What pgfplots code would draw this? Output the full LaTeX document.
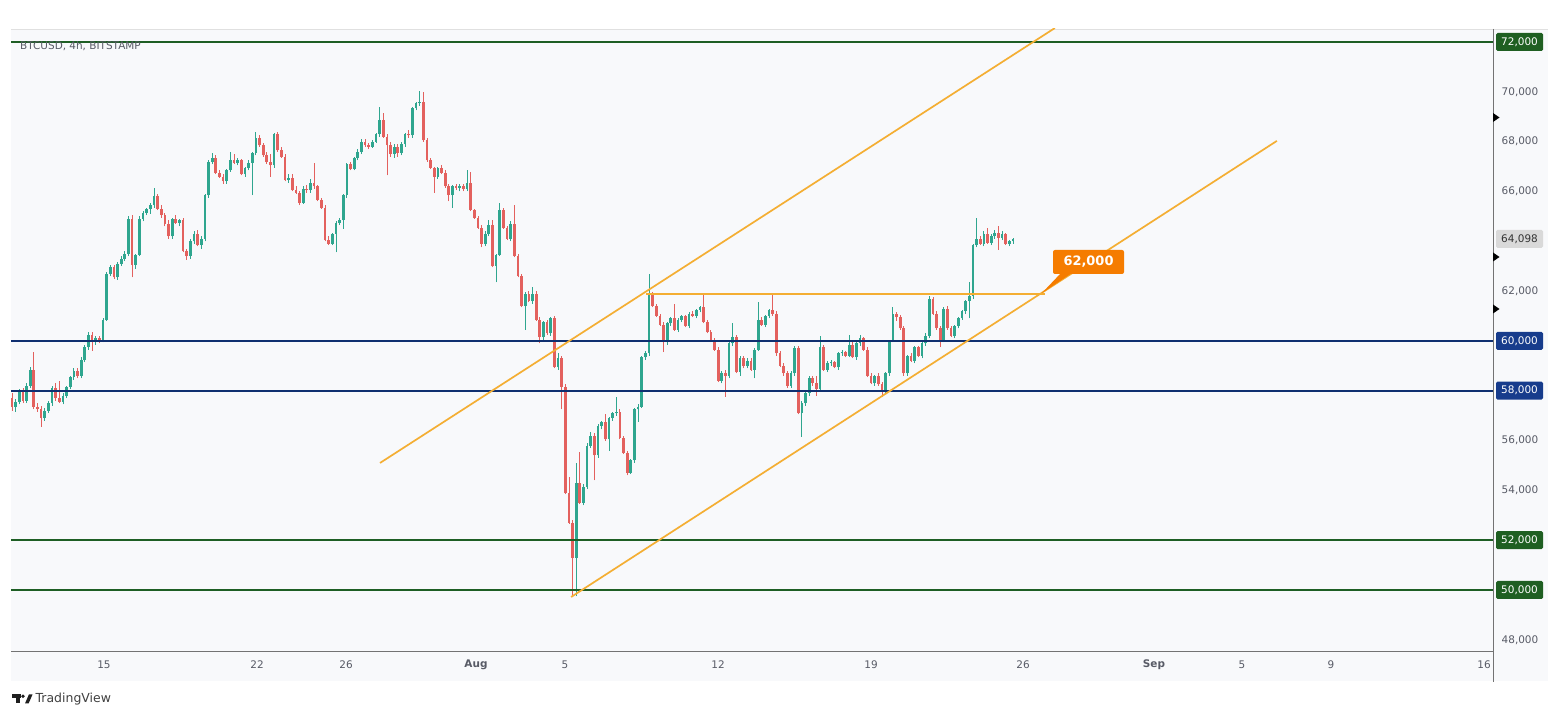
\documentclass[border=0pt]{standalone}
\usepackage{pgfplots}
\pgfplotsset{compat=1.18}
\usepackage{pgfplotstable}
\usepackage{fontspec}
\setmainfont{DejaVu Sans}
\definecolor{cgreen}{HTML}{2FA68F}
\definecolor{cred}{HTML}{E3615E}
\definecolor{lvlgreen}{HTML}{1E5E24}
\definecolor{lvlnavy}{HTML}{0F2F70}
\definecolor{boxgreen}{HTML}{1F5F22}
\definecolor{boxnavy}{HTML}{173C8C}
\definecolor{chan}{HTML}{F4AE33}
\definecolor{callout}{HTML}{F57C00}
\definecolor{panel}{HTML}{F8F9FB}
\definecolor{axtext}{HTML}{585B66}

\pgfplotstableread{
i o h l c
0 57.70 57.90 57.20 57.35
1 57.35 57.65 57.15 57.55
2 57.55 58.05 57.45 57.95
3 57.95 58.10 57.50 57.60
4 57.60 58.30 57.50 58.20
5 58.20 58.95 58.10 58.85
6 58.85 59.55 57.25 57.35
7 57.35 57.50 57.15 57.25
8 57.25 57.40 56.55 56.90
9 56.90 57.30 56.80 57.20
10 57.20 57.60 57.10 57.50
11 57.50 58.20 57.40 58.10
12 58.10 58.30 57.60 57.70
13 57.70 58.40 57.50 57.55
14 57.55 57.90 57.45 57.80
15 57.80 58.20 57.70 58.15
16 58.15 58.60 58.05 58.55
17 58.55 58.90 58.45 58.80
18 58.80 58.90 58.50 58.60
19 58.60 59.35 58.50 59.25
20 59.25 59.85 59.15 59.75
21 59.75 60.35 59.65 60.25
22 60.25 60.35 59.60 60.00
23 60.00 60.20 59.85 60.10
24 60.10 60.20 59.90 60.00
25 60.00 60.90 59.95 60.85
26 60.85 62.75 60.80 62.70
27 62.70 63.05 62.60 62.95
28 62.95 63.05 62.50 62.55
29 62.55 63.15 62.45 63.10
30 63.10 63.40 63.00 63.30
31 63.30 63.60 63.20 63.50
32 63.50 65.00 63.40 64.90
33 64.90 65.05 62.55 63.05
34 63.05 63.50 62.90 63.45
35 63.45 65.00 63.40 64.90
36 64.90 65.20 64.80 65.15
37 65.15 65.35 65.05 65.30
38 65.30 65.55 65.10 65.45
39 65.45 66.15 65.35 65.80
40 65.80 65.90 65.25 65.30
41 65.30 65.45 64.95 65.05
42 65.05 65.15 64.60 64.70
43 64.70 64.85 64.10 64.20
44 64.20 64.95 64.10 64.90
45 64.90 65.05 64.70 64.75
46 64.75 64.90 64.60 64.85
47 64.85 64.95 63.55 63.60
48 63.60 63.70 63.25 63.40
49 63.40 64.10 63.30 64.00
50 64.00 64.40 63.90 64.30
51 64.30 64.45 63.80 63.85
52 63.85 64.20 63.70 64.10
53 64.10 65.90 64.00 65.85
54 65.85 67.25 65.75 67.20
55 67.20 67.55 67.10 67.35
56 67.35 67.45 66.70 66.75
57 66.75 66.85 66.55 66.60
58 66.60 66.70 66.30 66.40
59 66.40 66.90 66.30 66.85
60 66.85 67.60 66.80 67.25
61 67.25 67.50 67.10 67.15
62 67.15 67.35 67.05 67.25
63 67.25 67.30 66.65 66.70
64 66.70 67.00 66.60 66.95
65 66.95 67.25 66.85 67.15
66 67.15 67.60 65.85 67.55
67 67.55 68.40 67.45 68.15
68 68.15 68.25 67.80 67.85
69 67.85 67.95 67.40 67.45
70 67.45 67.60 67.10 67.20
71 67.20 67.50 66.60 67.05
72 67.05 68.35 66.95 68.30
73 68.30 68.40 67.60 67.65
74 67.65 67.80 67.35 67.40
75 67.40 67.50 66.40 66.45
76 66.45 66.70 66.35 66.55
77 66.55 66.70 66.00 66.05
78 66.05 66.20 65.90 65.95
79 65.95 66.00 65.45 65.55
80 65.55 66.20 65.50 66.10
81 66.10 66.25 65.95 66.05
82 66.05 66.50 65.95 66.35
83 66.35 67.15 66.10 66.20
84 66.20 66.25 65.60 65.65
85 65.65 65.75 65.30 65.35
86 65.35 65.45 64.00 64.05
87 64.05 64.20 63.85 63.90
88 63.90 64.35 63.85 64.30
89 64.30 64.80 63.55 64.75
90 64.75 64.95 64.65 64.85
91 64.85 65.90 64.50 65.85
92 65.85 67.15 65.75 67.10
93 67.10 67.20 66.85 66.90
94 66.90 67.40 66.85 67.35
95 67.35 67.70 67.25 67.60
96 67.60 68.10 67.50 68.00
97 68.00 68.10 67.80 67.85
98 67.85 67.95 67.70 67.80
99 67.80 68.05 67.75 68.00
100 68.00 68.35 67.95 68.30
101 68.30 69.40 68.20 68.85
102 68.85 69.15 68.15 68.20
103 68.20 68.30 66.65 67.85
104 67.85 68.00 67.40 67.50
105 67.50 67.90 67.35 67.80
106 67.80 67.90 67.40 67.55
107 67.55 68.00 67.45 67.90
108 67.90 68.35 67.80 68.30
109 68.30 68.45 68.15 68.25
110 68.25 69.40 68.15 69.35
111 69.35 69.60 69.25 69.55
112 69.55 70.05 69.45 69.60
113 69.60 70.00 68.00 68.05
114 68.05 68.15 67.20 67.25
115 67.25 67.35 66.90 66.95
116 66.95 67.00 65.95 66.60
117 66.60 67.00 66.50 66.95
118 66.95 67.05 66.70 66.75
119 66.75 66.85 66.15 66.20
120 66.20 66.30 65.60 65.85
121 65.85 66.25 65.35 66.20
122 66.20 66.30 66.05 66.15
123 66.15 66.30 66.00 66.20
124 66.20 66.30 66.00 66.10
125 66.10 66.85 66.00 66.35
126 66.35 66.80 65.20 65.25
127 65.25 65.30 64.90 64.95
128 64.95 65.00 64.50 64.55
129 64.55 64.65 63.75 63.90
130 63.90 64.40 63.80 64.30
131 64.30 64.85 64.20 64.65
132 64.65 64.85 62.95 63.00
133 63.00 63.50 62.35 63.45
134 63.45 65.55 63.40 65.25
135 65.25 65.35 64.50 64.55
136 64.55 64.60 64.05 64.10
137 64.10 64.80 64.00 64.70
138 64.70 65.45 63.35 63.40
139 63.40 63.50 62.55 62.60
140 62.60 62.70 61.35 61.40
141 61.40 61.95 60.45 61.90
142 61.90 62.00 61.55 61.60
143 61.60 62.15 61.50 61.90
144 61.90 62.00 60.80 60.85
145 60.85 60.95 59.90 60.15
146 60.15 60.80 60.05 60.75
147 60.75 60.85 60.25 60.30
148 60.30 60.95 60.20 60.90
149 60.90 61.00 58.90 58.95
150 58.95 59.50 58.85 59.30
151 59.30 59.40 57.25 58.15
152 58.15 58.25 53.85 53.90
153 53.90 54.55 52.65 52.70
154 52.70 52.80 49.70 51.30
155 51.30 55.10 49.75 54.30
156 54.30 55.55 53.45 53.50
157 53.50 54.25 53.40 54.15
158 54.15 55.90 54.05 55.80
159 55.80 56.35 55.70 56.20
160 56.20 56.30 54.40 55.40
161 55.40 56.65 55.30 56.60
162 56.60 56.80 56.45 56.75
163 56.75 57.05 56.00 56.05
164 56.05 56.95 55.60 56.90
165 56.90 57.15 56.80 57.10
166 57.10 57.75 57.00 57.15
167 57.15 57.25 56.05 56.10
168 56.10 56.20 55.45 55.50
169 55.50 55.60 54.60 54.70
170 54.70 55.25 54.65 55.20
171 55.20 57.30 55.10 57.25
172 57.25 57.45 56.75 57.35
173 57.35 59.40 57.30 59.35
174 59.35 59.60 59.25 59.50
175 59.50 62.70 59.40 61.85
176 61.85 61.95 61.35 61.40
177 61.40 61.50 60.95 61.00
178 61.00 61.10 60.60 60.65
179 60.65 60.75 59.55 59.95
180 59.95 60.75 59.85 60.70
181 60.70 60.95 60.60 60.90
182 60.90 61.50 60.40 60.45
183 60.45 60.90 60.35 60.85
184 60.85 61.05 60.75 61.00
185 61.00 61.05 60.55 60.60
186 60.60 61.15 60.50 61.10
187 61.10 61.20 60.95 61.00
188 61.00 61.30 60.90 61.25
189 61.25 61.40 61.15 61.35
190 61.35 61.85 60.70 60.75
191 60.75 60.85 60.30 60.35
192 60.35 60.45 59.95 60.05
193 60.05 60.10 59.60 59.65
194 59.65 59.75 58.35 58.40
195 58.40 58.80 58.30 58.70
196 58.70 58.85 57.75 58.60
197 58.60 60.00 58.50 59.90
198 59.90 60.70 59.80 60.15
199 60.15 60.25 58.70 58.75
200 58.75 59.40 58.60 59.30
201 59.30 59.40 58.90 59.00
202 59.00 59.30 58.90 59.20
203 59.20 59.30 58.80 58.85
204 58.85 59.70 58.50 59.65
205 59.65 61.55 59.60 60.85
206 60.85 60.95 60.60 60.65
207 60.65 61.05 60.55 61.00
208 61.00 61.30 60.90 61.25
209 61.25 61.85 61.00 61.10
210 61.10 61.20 59.40 59.50
211 59.50 59.60 58.95 59.00
212 59.00 59.10 58.60 58.70
213 58.70 58.80 58.10 58.20
214 58.20 58.80 58.10 58.70
215 58.70 59.80 58.60 59.70
216 59.70 59.80 57.05 57.10
217 57.10 57.60 56.15 57.50
218 57.50 58.00 57.40 57.90
219 57.90 58.60 57.80 58.50
220 58.50 58.60 58.20 58.30
221 58.30 58.60 57.80 58.05
222 58.05 60.20 58.00 59.75
223 59.75 59.85 58.80 58.85
224 58.85 59.20 58.75 59.10
225 59.10 59.25 59.00 59.15
226 59.15 59.20 58.90 58.95
227 58.95 59.55 58.85 59.50
228 59.50 59.65 59.40 59.55
229 59.55 59.60 59.35 59.40
230 59.40 60.25 59.35 59.85
231 59.85 59.95 59.30 59.35
232 59.35 59.95 59.25 59.90
233 59.90 60.25 59.80 60.10
234 60.10 60.15 59.60 59.65
235 59.65 59.75 58.55 58.60
236 58.60 58.70 58.25 58.30
237 58.30 58.65 58.20 58.60
238 58.60 58.70 58.20 58.25
239 58.25 58.35 57.75 58.00
240 58.00 58.75 57.90 58.70
241 58.70 60.05 58.60 60.00
242 60.00 61.35 59.95 61.10
243 61.10 61.15 60.80 60.95
244 60.95 61.05 60.45 60.50
245 60.50 60.60 58.60 58.70
246 58.70 59.45 58.60 59.40
247 59.40 59.50 59.15 59.20
248 59.20 59.80 59.10 59.75
249 59.75 59.80 59.35 59.40
250 59.40 60.00 59.30 59.90
251 59.90 60.30 59.80 60.20
252 60.20 61.80 60.10 61.70
253 61.70 61.75 61.05 61.10
254 61.10 61.20 60.45 60.50
255 60.50 60.60 59.75 60.00
256 60.00 61.35 59.95 61.30
257 61.30 61.40 60.45 60.50
258 60.50 60.60 60.15 60.20
259 60.20 60.65 60.10 60.60
260 60.60 60.95 60.50 60.90
261 60.90 61.25 60.85 61.20
262 61.20 61.65 61.10 61.60
263 61.60 62.35 60.90 61.80
264 61.80 63.90 61.70 63.85
265 63.85 64.95 63.75 64.10
266 64.10 64.20 63.85 63.90
267 63.90 64.40 63.80 64.30
268 64.30 64.55 63.90 63.95
269 63.95 64.30 63.85 64.20
270 64.20 64.45 64.10 64.35
271 64.35 64.60 63.65 64.15
272 64.15 64.40 64.05 64.30
273 64.30 64.35 63.85 63.90
274 63.90 64.05 63.80 64.00
275 64.00 64.15 63.90 64.098
}\candles

\newcommand{\pricebox}[4]{%
  \fill[#2, rounded corners=1.5bp] (1496,{#1-9}) rectangle (1543,{#1+9});
  \node[text=#3, font=\fontsize{10.5}{12}\selectfont] at (1519.5,#1) {#4};}
\newcommand{\marker}[1]{%
  \fill[black] (1493,{#1-4.5}) -- (1499.5,#1) -- (1493,{#1+4.5}) -- cycle;}
\pgfplotsset{candle/.style={draw=none, mark=none, forget plot,
  error bars/y dir=plus, error bars/y explicit, error bars/error mark=none}}

\begin{document}
\begin{tikzpicture}
\begin{scope}[x=1bp,y=-1bp,shift={(0bp,719bp)}]
\useasboundingbox (0,0) rectangle (1560,719);
\fill[white] (0,0) rectangle (1560,719);
\fill[panel] (11,29) rectangle (1548,681);
\draw[black!12, line width=0.8bp] (11,29) -- (1548,29);
\end{scope}
\begin{axis}[
  at={(11bp,68bp)}, anchor=south west,
  scale only axis, width=1482bp, height=622bp,
  xmin=-0.275, xmax=406.87, ymin=47.551, ymax=72.522,
  axis line style={draw=none},
  major tick length=0pt,
  xtick={25.27,67.31,91.76,127.47,151.92,193.96,235.99,277.75,313.74,337.91,362.36,404.4},
  xticklabels={15,22,26,\textbf{Aug},5,12,19,26,\textbf{Sep},5,9,16},
  ytick={48,54,56,62,66,68,70},
  yticklabels={{48,000},{54,000},{56,000},{62,000},{66,000},{68,000},{70,000}},
  yticklabel pos=right,
  ticklabel style={font=\fontsize{10.5}{12}\selectfont, text=axtext},
  xticklabel style={anchor=center, yshift=-14bp},
  yticklabel style={anchor=center, xshift=27bp},
  clip=true,
]
% wicks
\addplot[candle,
  restrict expr to domain={\thisrow{c}-\thisrow{o}}{0:100},
  error bars/error bar style={draw=cgreen, line width=0.8bp}]
  table[x=i, y=l, y error expr={\thisrow{h}-\thisrow{l}}] {\candles};
\addplot[candle,
  restrict expr to domain={\thisrow{c}-\thisrow{o}}{-100:-0.00001},
  error bars/error bar style={draw=cred, line width=0.8bp}]
  table[x=i, y=l, y error expr={\thisrow{h}-\thisrow{l}}] {\candles};
% bodies
\addplot[candle,
  restrict expr to domain={\thisrow{c}-\thisrow{o}}{0:100},
  error bars/error bar style={draw=cgreen, line width=2.7bp}]
  table[x=i, y expr={min(\thisrow{o},\thisrow{c})}, y error expr={max(abs(\thisrow{c}-\thisrow{o}),0.04)}] {\candles};
\addplot[candle,
  restrict expr to domain={\thisrow{c}-\thisrow{o}}{-100:-0.00001},
  error bars/error bar style={draw=cred, line width=2.7bp}]
  table[x=i, y expr={min(\thisrow{o},\thisrow{c})}, y error expr={max(abs(\thisrow{c}-\thisrow{o}),0.04)}] {\candles};
% horizontal levels
\addplot[lvlgreen, line width=1.6bp] coordinates {(-5,72) (420,72)};
\addplot[lvlnavy, line width=1.6bp] coordinates {(-5,60) (420,60)};
\addplot[lvlnavy, line width=1.6bp] coordinates {(-5,58) (420,58)};
\addplot[lvlgreen, line width=1.6bp] coordinates {(-5,52) (420,52)};
\addplot[lvlgreen, line width=1.6bp] coordinates {(-5,50) (420,50)};
% channel
\addplot[chan, line width=1.7bp] coordinates {(101.1,55.10) (286.5,72.56)};
\addplot[chan, line width=1.7bp] coordinates {(153.6,49.72) (347.5,68.03)};
\addplot[chan, line width=1.7bp] coordinates {(174.2,61.87) (283.8,61.87)};
\end{axis}
\begin{scope}[x=1bp,y=-1bp,shift={(0bp,719bp)}]
% axis frame lines
\draw[black!55, line width=0.9bp] (11,651) -- (1493,651);
\draw[black!55, line width=0.9bp] (1493,29) -- (1493,682);
% price boxes
\pricebox{42}{boxgreen}{white}{72,000}
\pricebox{238.8}{black!15}{black!80}{64,098}
\pricebox{340.9}{boxnavy}{white}{60,000}
\pricebox{390.7}{boxnavy}{white}{58,000}
\pricebox{540.2}{boxgreen}{white}{52,000}
\pricebox{590}{boxgreen}{white}{50,000}
\marker{117.5}
\marker{257}
\marker{309}
% callout
\fill[callout] (1061,273) -- (1072,273) -- (1042,293) -- cycle;
\fill[callout, rounded corners=2bp] (1053,250) rectangle (1124,274);
\node[text=white, font=\bfseries\fontsize{13}{14}\selectfont] at (1088.5,262) {62,000};
% title
\node[anchor=west, text=axtext, font=\fontsize{10.5}{12}\selectfont, inner sep=0pt] at (20,46.5) {BTCUSD, 4h, BITSTAMP};
% logo
\fill[black!88] (11.7,694.5) rectangle (21,698);
\fill[black!88] (16,694.5) rectangle (19.5,703.5);
\fill[black!88] (23,696.3) circle (1.8);
\fill[black!88] (25,703.5) -- (28.6,703.5) -- (32.5,694.5) -- (28.9,694.5) -- cycle;
\node[anchor=west, inner sep=0pt, text=black!75, font=\fontsize{12.5}{13}\selectfont] at (35.5,699.5) {TradingView};
\end{scope}
\end{tikzpicture}
\end{document}
